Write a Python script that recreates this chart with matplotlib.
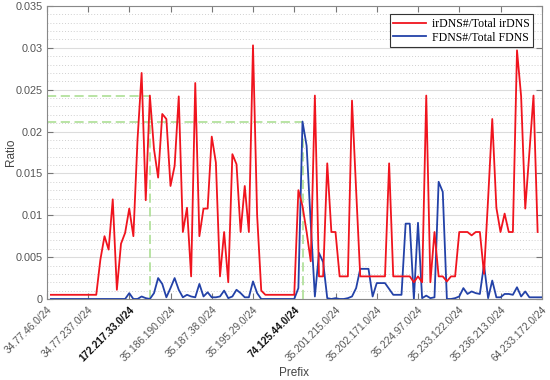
import matplotlib
matplotlib.use("Agg")
import matplotlib.pyplot as plt
import matplotlib.transforms as mtransforms
import numpy as np
from matplotlib.ticker import MultipleLocator

tick_labels = ["34.77.46.0/24", "34.77.237.0/24", "172.217.33.0/24", "35.186.190.0/24",
               "35.187.38.0/24", "35.195.29.0/24", "74.125.44.0/24", "35.201.215.0/24",
               "35.202.171.0/24", "35.224.97.0/24", "35.233.122.0/24", "35.236.213.0/24",
               "64.233.172.0/24"]
bold_labels = ["172.217.33.0/24", "74.125.44.0/24"]

irdns_ratio = [0.0005]*12 + [
    0.0047, 0.0075, 0.0059, 0.0119, 0.0011, 0.0066, 0.0079, 0.0108, 0.0075, 0.0190,
    0.0270, 0.0118, 0.0243, 0.0179, 0.0145, 0.0221, 0.0215, 0.0135, 0.0159, 0.0242,
    0.0080, 0.0109, 0.0027, 0.0258, 0.0075, 0.0108, 0.0108, 0.0194, 0.0163, 0.0027,
    0.0080, 0.0020, 0.0173, 0.0161, 0.0080, 0.0135, 0.0080, 0.0303, 0.0100, 0.0010,
] + [0.0005]*8 + [
    0.0130, 0.0111, 0.0080, 0.0045, 0.0243, 0.0027, 0.0027, 0.0162, 0.0080, 0.0080,
    0.0027, 0.0027, 0.0027, 0.0237, 0.0130,
] + [0.0027]*7 + [0.0162] + [0.0027]*5 + [
    0.0020, 0.0027, 0.0020, 0.0243, 0.0020, 0.0080, 0.0027, 0.0027, 0.0021, 0.0027,
    0.0027, 0.0080, 0.0080, 0.0080, 0.0076, 0.0080, 0.0080, 0.0030, 0.0120, 0.0215,
    0.0109, 0.0080, 0.0102, 0.0080, 0.0080, 0.0297, 0.0242, 0.0108, 0.0175, 0.0243,
    0.0080,
]

fdns_ratio = [0.0]*19 + [
    0.0007, 0.0, 0.0, 0.0003, 0.0001, 0.0, 0.0007, 0.0025, 0.0018, 0.0002,
    0.0013, 0.0025, 0.0011, 0.0002, 0.0005, 0.0003, 0.0002, 0.0018, 0.0003, 0.0008,
    0.0002, 0.0002, 0.0003, 0.0010, 0.0001, 0.0003, 0.0011, 0.0007, 0.0002, 0.0002,
    0.0021, 0.0007, 0.0,
] + [0.0]*8 + [
    0.0013, 0.0212, 0.0183, 0.0090, 0.0003, 0.0055, 0.0044, 0.0001, 0.0, 0.0001,
    0.0, 0.0, 0.0001, 0.0003, 0.0013, 0.0036, 0.0036, 0.0036, 0.0003, 0.0019,
    0.0019, 0.0019, 0.0012, 0.0005, 0.0005, 0.0005, 0.0090, 0.0090, 0.0, 0.0091,
    0.0001, 0.0004, 0.0001, 0.0002, 0.0140, 0.0128, 0.0, 0.0, 0.0001, 0.0003,
    0.0013, 0.0006, 0.0009, 0.0007, 0.0006, 0.0041, 0.0001, 0.0022, 0.0002, 0.0002,
    0.0006, 0.0006, 0.0005, 0.0014, 0.0003, 0.0009, 0.0002, 0.0002, 0.0002, 0.0002,
]

red_mark_idx = 25
blue_mark_idx = 62

x_red = np.arange(1, len(irdns_ratio) + 1)
x_blue = np.arange(1, len(fdns_ratio) + 1)

plt.rcParams['font.family'] = ['Liberation Sans', 'DejaVu Sans']

fig = plt.figure(figsize=(5.5, 3.8), dpi=100)
ax = fig.add_axes([0.085, 0.2132, 0.900, 0.771])

gray = '#555555'
ax.yaxis.set_major_locator(MultipleLocator(0.005))
ax.yaxis.set_minor_locator(MultipleLocator(0.001))
ax.grid(axis='y', which='major', color='#dcdcdc', linewidth=0.8, linestyle='-')
ax.grid(axis='y', which='minor', color='#d0d0d0', linewidth=0.7, linestyle=(0, (1, 2)))
ax.set_axisbelow(True)

rv = irdns_ratio[red_mark_idx - 1]
bv = fdns_ratio[blue_mark_idx - 1]
gcol = '#a6dc8c'
ax.plot([0, red_mark_idx], [rv, rv], color=gcol, linestyle=(0, (6, 3)), linewidth=1.1, zorder=2)
ax.plot([red_mark_idx, red_mark_idx], [0, rv], color=gcol, linestyle=(0, (6, 3)), linewidth=1.1, zorder=2)
ax.plot([0, blue_mark_idx], [bv, bv], color=gcol, linestyle=(0, (6, 3)), linewidth=1.1, zorder=2)
ax.plot([blue_mark_idx, blue_mark_idx], [0, bv], color=gcol, linestyle=(0, (6, 3)), linewidth=1.1, zorder=2)

ax.plot(x_red, irdns_ratio, color='#f0141e', linewidth=1.3, label='irDNS#/Total irDNS', zorder=4)
ax.plot(x_blue, fdns_ratio, color='#2342a8', linewidth=1.3, label='FDNS#/Total FDNS', zorder=3)

ax.set_xlim(0, 120)
ax.set_ylim(0, 0.035)
ax.set_xticks(np.arange(0, 121, 10))
ax.set_xticklabels(tick_labels, rotation=45, ha='right', rotation_mode='anchor', fontsize=7.3)
offset = mtransforms.ScaledTranslation(4 / 100, 0, fig.dpi_scale_trans)
for lbl in ax.get_xticklabels():
    lbl.set_transform(lbl.get_transform() + offset)
    if lbl.get_text() in bold_labels:
        lbl.set_color('#111111')
        lbl.set_fontweight('bold')
    else:
        lbl.set_color(gray)

yt = np.arange(0, 0.0351, 0.005)
ax.set_yticks(yt)
ax.set_yticklabels(['0', '0.005', '0.01', '0.015', '0.02', '0.025', '0.03', '0.035'],
                   fontsize=7.8, color=gray)

ax.tick_params(axis='both', which='major', direction='in', length=4, color='#777777',
               top=True, right=True)
ax.tick_params(axis='y', which='minor', left=False, right=False)
ax.tick_params(axis='x', which='major', pad=4)
ax.tick_params(axis='y', which='major', pad=3)
for s in ax.spines.values():
    s.set_color('#888888')
    s.set_linewidth(0.8)

ax.set_ylabel('Ratio', fontsize=8.5, color='#444444')
ax.set_xlabel('Prefix', fontsize=8.5, color='#444444')
ax.yaxis.set_label_coords(-0.06, 0.5)
ax.xaxis.set_label_coords(0.5, -0.232)

leg = ax.legend(loc='upper right', bbox_to_anchor=(0.983, 0.972), borderaxespad=0,
                prop={'family': 'Liberation Serif', 'size': 8.5}, fancybox=False,
                edgecolor='#333333', framealpha=1, handlelength=2.8, borderpad=0.3,
                labelspacing=0.15, handletextpad=0.5)
leg.get_frame().set_linewidth(0.8)

fig.savefig('out.png', dpi=100)
